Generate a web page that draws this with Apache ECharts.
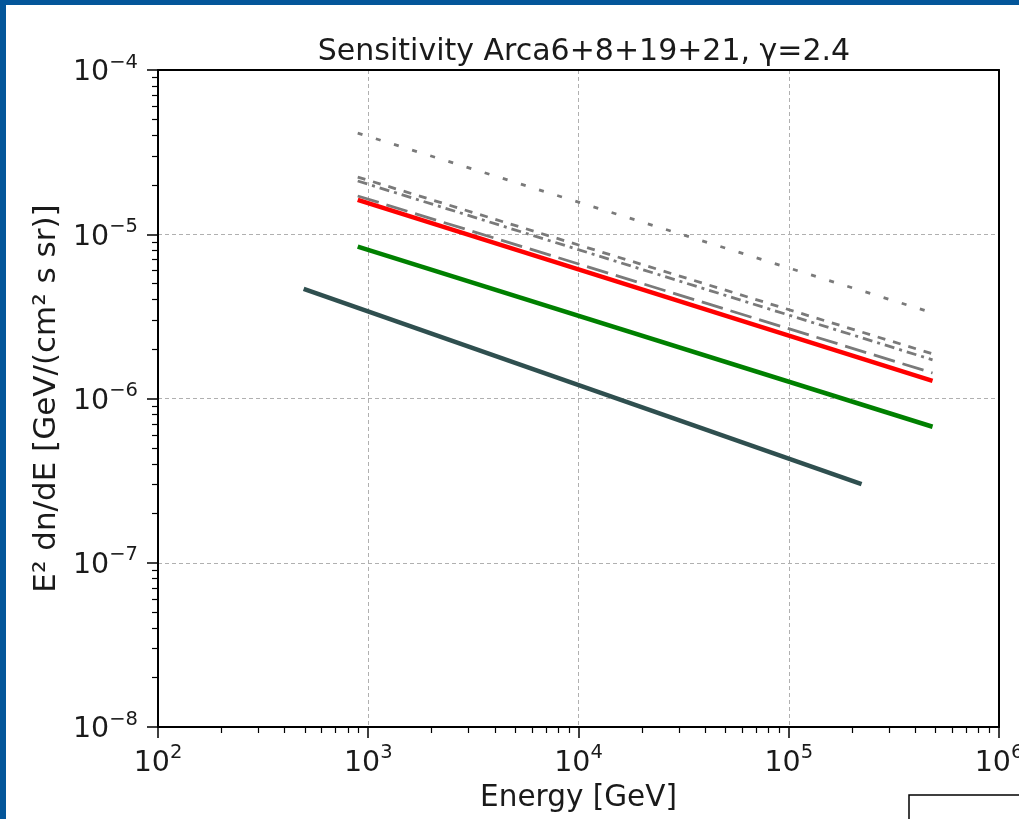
<!DOCTYPE html>
<html>
<head>
<meta charset="utf-8">
<script src="https://cdn.jsdelivr.net/npm/echarts@6/dist/echarts.min.js"></script>
<style>
  html, body { margin: 0; padding: 0; background: #ffffff; }
  #chart { width: 1019px; height: 819px; }
</style>
</head>
<body>
<div id="chart"></div>
<script>
// Sensitivity curves: E^2 dN/dE [GeV/(cm^2 s sr)] vs energy [GeV]; each is a straight power law in log-log,
// so each series is given by its two end points.
const titleText = 'Sensitivity Arca6+8+19+21, \u03b3=2.4';
const xName = 'Energy [GeV]';
const yName = 'E\u00b2 dn/dE [GeV/(cm\u00b2 s sr)]';

const slateLine  = [[493, 4.65e-6], [2.22e5, 3.01e-7]];
const greenLine  = [[891, 8.4e-6],  [4.83e5, 6.73e-7]];
const redLine    = [[891, 1.62e-5], [4.83e5, 1.28e-6]];
const grayDotted = [[891, 4.13e-5], [4.83e5, 3.32e-6]];
const grayDashA  = [[891, 2.23e-5], [4.83e5, 1.87e-6]];
const grayDashB  = [[891, 2.11e-5], [4.83e5, 1.72e-6]];
const grayDashC  = [[891, 1.71e-5], [4.83e5, 1.43e-6]];

const xRange = [1e2, 1e6];
const yRange = [1e-8, 1e-4];

// minor tick positions (2..9 times each decade)
function minorTicks(lo, hi) {
  const out = [];
  for (let d = Math.round(Math.log10(lo)); d < Math.round(Math.log10(hi)); d++) {
    for (let m = 2; m <= 9; m++) out.push(m * Math.pow(10, d));
  }
  return out;
}
const xMinor = minorTicks(xRange[0], xRange[1]);
const yMinor = minorTicks(yRange[0], yRange[1]);

const FONT = "'DejaVu Sans', sans-serif";
const TXT = '#1a1a1a';

function powLabel(v) {
  const e = Math.round(Math.log10(v));
  const s = e < 0 ? '\u2212' + Math.abs(e) : String(e);
  return '{b|10}{s|' + s + '}';
}
const richPow = {
  b: { fontFamily: FONT, fontSize: 28.5, color: TXT, lineHeight: 35, verticalAlign: 'bottom' },
  s: { fontFamily: FONT, fontSize: 19.5, color: TXT, lineHeight: 20, verticalAlign: 'top' }
};

const GRID = { left: 158, right: 20, top: 70, bottom: 92, outerBoundsMode: 'none', containLabel: false };

function baseAxis(range) {
  return { type: 'log', logBase: 10, min: range[0], max: range[1] };
}

const option = {
  animation: false,
  backgroundColor: '#ffffff',
  textStyle: { fontFamily: FONT },
  title: {
    text: titleText,
    left: 579, top: 32, textAlign: 'center',
    textStyle: { fontFamily: FONT, fontSize: 30, fontWeight: 'normal', color: TXT }
  },
  grid: GRID,
  xAxis: [
    Object.assign(baseAxis(xRange), {
      position: 'bottom',
      name: xName, nameLocation: 'middle', nameGap: 56,
      nameTextStyle: { fontFamily: FONT, fontSize: 29.5, color: TXT },
      axisLine: { show: true, lineStyle: { color: '#000', width: 2 } },
      axisTick: { show: true, inside: false, length: 11, lineStyle: { color: '#000', width: 1.5 } },
      axisLabel: { margin: 16, formatter: powLabel, rich: richPow, hideOverlap: false, showMaxLabel: true, showMinLabel: true },
      splitLine: { show: true, lineStyle: { color: '#b0b0b0', width: 1, type: [4, 3] } }
    }),
    Object.assign(baseAxis(xRange), {
      position: 'bottom',
      axisLine: { show: false },
      axisTick: { show: true, inside: false, length: 6, customValues: xMinor, lineStyle: { color: '#000', width: 1.2 } },
      axisLabel: { show: false },
      splitLine: { show: false }
    }),
    Object.assign(baseAxis(xRange), {
      position: 'top',
      axisLine: { show: true, lineStyle: { color: '#000', width: 2 } },
      axisTick: { show: false }, axisLabel: { show: false }, splitLine: { show: false }
    })
  ],
  yAxis: [
    Object.assign(baseAxis(yRange), {
      position: 'left',
      name: yName, nameLocation: 'middle', nameGap: 95, nameRotate: 90,
      nameTextStyle: { fontFamily: FONT, fontSize: 31, color: TXT },
      axisLine: { show: true, lineStyle: { color: '#000', width: 2 } },
      axisTick: { show: true, inside: false, length: 11, lineStyle: { color: '#000', width: 1.5 } },
      axisLabel: { margin: 20, formatter: powLabel, rich: richPow },
      splitLine: { show: true, lineStyle: { color: '#b0b0b0', width: 1, type: [4, 3] } }
    }),
    Object.assign(baseAxis(yRange), {
      position: 'left',
      axisLine: { show: false },
      axisTick: { show: true, inside: false, length: 6, customValues: yMinor, lineStyle: { color: '#000', width: 1.2 } },
      axisLabel: { show: false },
      splitLine: { show: false }
    }),
    Object.assign(baseAxis(yRange), {
      position: 'right',
      axisLine: { show: true, lineStyle: { color: '#000', width: 2 } },
      axisTick: { show: false }, axisLabel: { show: false }, splitLine: { show: false }
    })
  ],
  series: [
    { type: 'line', data: grayDotted, showSymbol: false, lineStyle: { color: '#7a7a7a', width: 2.8, type: [5, 14] } },
    { type: 'line', data: grayDashA, showSymbol: false, lineStyle: { color: '#7a7a7a', width: 2.8, type: [8, 8] } },
    { type: 'line', data: grayDashB, showSymbol: false, lineStyle: { color: '#7a7a7a', width: 2.8, type: [10, 5, 3, 5] } },
    { type: 'line', data: grayDashC, showSymbol: false, lineStyle: { color: '#7a7a7a', width: 2.8, type: [22, 8] } },
    { type: 'line', data: redLine, showSymbol: false, lineStyle: { color: '#ff0000', width: 4.5 } },
    { type: 'line', data: greenLine, showSymbol: false, lineStyle: { color: '#008000', width: 4.5 } },
    { type: 'line', data: slateLine, showSymbol: false, lineStyle: { color: '#2f4f4f', width: 4.5 } }
  ],
  graphic: [
    { type: 'rect', shape: { x: 0, y: 0, width: 1019, height: 5 }, style: { fill: '#04569a' }, z: 100 },
    { type: 'rect', shape: { x: 0, y: 0, width: 6, height: 819 }, style: { fill: '#04569a' }, z: 100 },
    { type: 'rect', shape: { x: 909, y: 795, width: 140, height: 60 }, style: { fill: '#ffffff', stroke: '#000', lineWidth: 1.5 }, z: 100 }
  ]
};

const chart = echarts.init(document.getElementById('chart'), null, { renderer: 'canvas' });
chart.setOption(option);
</script>
</body>
</html>
